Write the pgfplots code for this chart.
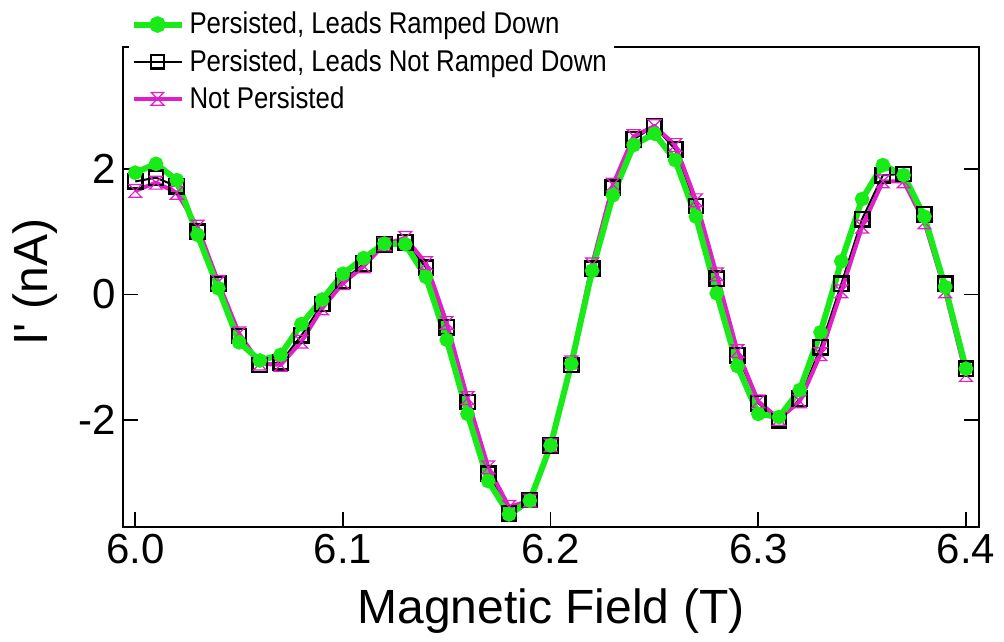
\documentclass[border=0pt]{standalone}
\usepackage{fontspec}
\setmainfont{Liberation Sans}
\newfontfamily\legfont{Liberation Sans}[FakeStretch=0.86]
\usepackage{pgfplots}
\usepackage{pgfplotstable}
\pgfplotsset{compat=1.18}
\definecolor{mygreen}{RGB}{25,235,25}
\definecolor{mymag}{RGB}{225,30,200}
\pgfdeclareplotmark{hourglass}{%
  \pgfpathmoveto{\pgfqpoint{-\pgfplotmarksize}{\pgfplotmarksize}}%
  \pgfpathlineto{\pgfqpoint{\pgfplotmarksize}{\pgfplotmarksize}}%
  \pgfpathlineto{\pgfqpoint{-\pgfplotmarksize}{-\pgfplotmarksize}}%
  \pgfpathlineto{\pgfqpoint{\pgfplotmarksize}{-\pgfplotmarksize}}%
  \pgfpathclose
  \pgfusepathqstroke}

\pgfplotstableread{
x g k m
6.00 1.94 1.80 1.65
6.01 2.08 1.86 1.78
6.02 1.82 1.72 1.62
6.03 0.95 1.00 1.08
6.04 0.10 0.17 0.20
6.05 -0.76 -0.66 -0.62
6.06 -1.05 -1.12 -1.10
6.07 -0.96 -1.08 -1.12
6.08 -0.47 -0.65 -0.75
6.09 -0.08 -0.15 -0.22
6.10 0.33 0.22 0.18
6.11 0.58 0.49 0.45
6.12 0.81 0.80 0.80
6.13 0.80 0.83 0.90
6.14 0.28 0.43 0.50
6.15 -0.72 -0.52 -0.45
6.16 -1.90 -1.71 -1.65
6.17 -2.97 -2.85 -2.75
6.18 -3.50 -3.48 -3.38
6.19 -3.28 -3.27 -3.28
6.20 -2.40 -2.40 -2.40
6.21 -1.10 -1.12 -1.08
6.22 0.38 0.41 0.48
6.23 1.58 1.70 1.75
6.24 2.38 2.47 2.52
6.25 2.56 2.68 2.68
6.26 2.14 2.31 2.38
6.27 1.24 1.41 1.50
6.28 0.02 0.25 0.32
6.29 -1.14 -0.97 -0.90
6.30 -1.90 -1.73 -1.70
6.31 -1.95 -2.00 -1.98
6.32 -1.52 -1.66 -1.70
6.33 -0.60 -0.84 -0.95
6.34 0.53 0.17 0.05
6.35 1.52 1.20 1.08
6.36 2.06 1.90 1.80
6.37 1.90 1.92 1.80
6.38 1.24 1.28 1.15
6.39 0.12 0.17 0.05
6.40 -1.18 -1.18 -1.28
}\datatable

\begin{document}
\begin{tikzpicture}
\begin{axis}[
  name=ax,
  scale only axis, width=428pt, height=240pt,
  xmin=5.9941, xmax=6.4063, ymin=-3.70, ymax=3.94,
  xtick={6.0,6.1,6.2,6.3,6.4}, xticklabels={6.0,6.1,6.2,6.3,6.4},
  ytick={-2,0,2}, yticklabels={-2,0,2},
  tick align=inside, xtick pos=bottom, ytick pos=both,
  major tick length=7.5pt,
  axis line style={line width=1pt},
  tick style={line width=0.8pt, black},
  ticklabel style={font=\fontsize{21}{21}\selectfont},
  xlabel={Magnetic Field (T)}, ylabel={I\textquotesingle\ (nA)},
  xlabel style={font=\fontsize{24}{24}\selectfont, at={(axis description cs:0.5,-0.175)}, anchor=center},
  ylabel style={font=\fontsize{24}{24}\selectfont, at={(axis description cs:-0.103,0.51)}, anchor=center},
  legend cell align=left,
  legend style={at={(axis description cs:0.006,1.088)}, anchor=north west, draw=none, fill=white,
    font=\legfont\fontsize{15}{15}\selectfont, inner sep=1pt, row sep=1.2pt,
    nodes={inner sep=2.5pt}},
  legend image code/.code={\draw[mark repeat=2,mark phase=2] plot coordinates {(0pt,0pt) (12pt,0pt) (24pt,0pt)};},
]
\addlegendimage{mygreen, line width=3pt, mark=*, mark size=2.6pt}
\addlegendentry{Persisted, Leads Ramped Down}
\addlegendimage{black, line width=1pt, mark=square, mark size=3.4pt, mark options={line width=1.1pt}}
\addlegendentry{Persisted, Leads Not Ramped Down}
\addlegendimage{mymag, line width=2pt, mark=hourglass, mark size=3.2pt, mark options={line width=0.6pt}}
\addlegendentry{Not Persisted}

\addplot[forget plot, black, line width=1pt, mark=square, mark size=3.6pt, mark options={line width=1.2pt}] table[x=x, y=k] {\datatable};
\addplot[forget plot, mymag, line width=2pt, mark=hourglass, mark size=3.2pt, mark options={line width=0.6pt}] table[x=x, y=m] {\datatable};
\addplot[forget plot, mygreen, line width=3pt, mark=*, mark size=2.1pt] table[x=x, y=g] {\datatable};
\end{axis}
\pgfresetboundingbox
\path[use as bounding box] ([xshift=-61.5pt,yshift=-57pt]ax.south west) rectangle ([xshift=12.5pt,yshift=23.5pt]ax.north east);
\end{tikzpicture}
\end{document}
